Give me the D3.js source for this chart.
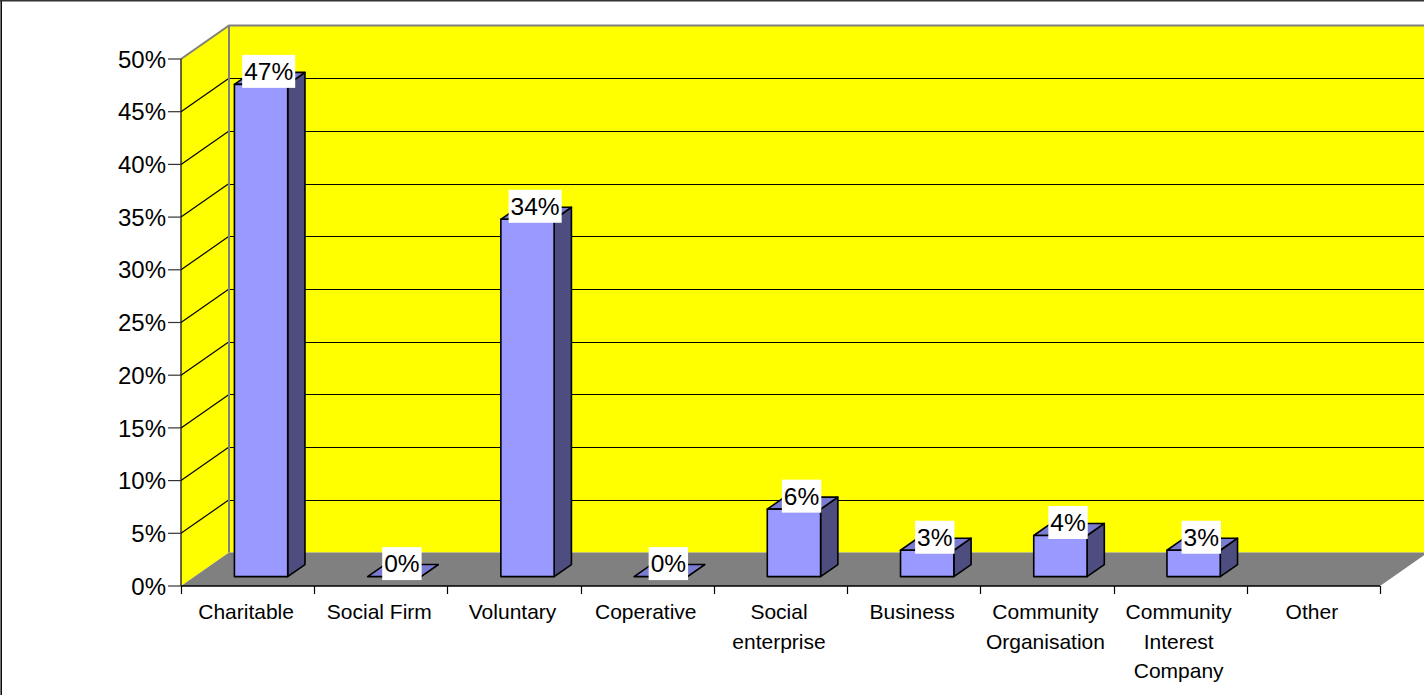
<!DOCTYPE html>
<html>
<head>
<meta charset="utf-8">
<script src="https://cdn.jsdelivr.net/npm/d3@7"></script>
<style>
  body { margin: 0; background: #fff; }
  text { font-family: Arial, "Liberation Sans", sans-serif; fill: #000; }
</style>
</head>
<body>
<svg id="chart"></svg>
<script>
// data (percent)
const categories = ["Charitable", "Social Firm", "Voluntary", "Coperative", "Social enterprise",
    "Business", "Community Organisation", "Community Interest Company", "Other"];
const values = [46.7, 0, 33.9, 0, 6.4, 2.5, 3.9, 2.5, null];
const yTicks = [0, 5, 10, 15, 20, 25, 30, 35, 40, 45, 50];

const width = 1424, height = 695;
const depth = {dx: 48, dy: -33.5};       // wall depth
const barFront = 0.28, barDepth = 0.36;  // fractions of the depth

const svg = d3.select('#chart')
    .attr('width', width)
    .attr('height', height);

const x = d3.scaleBand()
    .domain(categories)
    .range([181, 1380])
    .paddingInner(0.6)
    .paddingOuter(0.3);

const y = d3.scaleLinear()
    .domain([0, 50])
    .range([586, 59]);

const step = x.step();
const x0 = x.range()[0], x1 = x.range()[1];
const pts = a => a.map(p => p.join(',')).join(' ');

// back wall
svg.append('rect')
    .attr('x', x0 + depth.dx).attr('y', y(50) + depth.dy)
    .attr('width', width).attr('height', y(0) - y(50))
    .attr('fill', '#ffff00');

// left wall
svg.append('polygon')
    .attr('points', pts([[x0, y(50)], [x0 + depth.dx, y(50) + depth.dy],
        [x0 + depth.dx, y(0) + depth.dy], [x0, y(0)]]))
    .attr('fill', '#ffff00');

// floor
svg.append('polygon')
    .attr('points', pts([[x0, y(0)], [x1, y(0)], [x1 + depth.dx, y(0) + depth.dy],
        [x0 + depth.dx, y(0) + depth.dy]]))
    .attr('fill', '#808080');

// gridlines
const grid = svg.append('g').attr('stroke', '#000').attr('stroke-width', 1.2);
yTicks.filter(t => t > 0 && t < 50).forEach(t => {
    const yy = Math.round(y(t) + depth.dy) + 0.5;
    grid.append('line')
        .attr('x1', x0 + depth.dx).attr('x2', width)
        .attr('y1', yy).attr('y2', yy);
    grid.append('line')
        .attr('x1', x0).attr('y1', y(t))
        .attr('x2', x0 + depth.dx).attr('y2', y(t) + depth.dy);
});

// wall outlines
svg.append('path')
    .attr('d', `M${x0},${y(50)} L${x0 + depth.dx},${y(50) + depth.dy} L${width},${y(50) + depth.dy}
        M${x0 + depth.dx},${y(50) + depth.dy} L${x0 + depth.dx},${y(0) + depth.dy}`)
    .attr('fill', 'none')
    .attr('stroke', '#808080')
    .attr('stroke-width', 2);

// bars
const bars = svg.append('g')
    .attr('stroke', '#000')
    .attr('stroke-width', 1.6)
    .attr('stroke-linejoin', 'round');

const labelPos = [];
categories.forEach((c, i) => {
    const v = values[i];
    if (v === null) return;
    const ox = depth.dx * barFront, oy = depth.dy * barFront;
    const bx = depth.dx * barDepth, by = depth.dy * barDepth;
    const l = x(c) + ox, r = l + x.bandwidth();
    const yb = y(0) + oy, yt = y(v) + oy;

    bars.append('polygon')
        .attr('points', pts([[r, yt], [r + bx, yt + by], [r + bx, yb + by], [r, yb]]))
        .attr('fill', '#4d4d80');
    bars.append('polygon')
        .attr('points', pts([[l, yt], [r, yt], [r + bx, yt + by], [l + bx, yt + by]]))
        .attr('fill', '#7b7bd0');
    if (v > 0) {
        bars.append('rect')
            .attr('x', l).attr('y', yt)
            .attr('width', r - l).attr('height', yb - yt)
            .attr('fill', '#9999ff');
    }
    labelPos.push({v: v, cx: (l + r) / 2 + bx / 2 - 1, cy: yt + by / 2 - 7});
});

// data labels
const labels = svg.append('g');
labelPos.forEach(d => {
    const g = labels.append('g');
    const t = g.append('text')
        .attr('x', d.cx)
        .attr('y', d.cy + 8.5)
        .attr('text-anchor', 'middle')
        .attr('font-size', 24.5)
        .text(Math.round(d.v) + '%');
    const w = t.node().getComputedTextLength() + 4;
    g.insert('rect', 'text')
        .attr('x', d.cx - w / 2).attr('y', d.cy - 16.5)
        .attr('width', w).attr('height', 33)
        .attr('fill', '#fff');
});

// y axis
const yAxis = svg.append('g');
yAxis.append('line')
    .attr('x1', x0).attr('x2', x0)
    .attr('y1', y(50)).attr('y2', y(0))
    .attr('stroke', '#000').attr('stroke-width', 1.2);
yTicks.forEach(t => {
    yAxis.append('line')
        .attr('x1', x0 - 13).attr('x2', x0)
        .attr('y1', y(t)).attr('y2', y(t))
        .attr('stroke', '#333').attr('stroke-width', 1.2);
    yAxis.append('text')
        .attr('x', 166).attr('y', y(t))
        .attr('dy', '0.36em')
        .attr('text-anchor', 'end')
        .attr('font-size', 24)
        .text(t + '%');
});

// x axis
const xAxis = svg.append('g');
xAxis.append('line')
    .attr('x1', x0).attr('x2', x1)
    .attr('y1', y(0)).attr('y2', y(0))
    .attr('stroke', '#000').attr('stroke-width', 1.5);
d3.range(categories.length + 1).forEach(i => {
    const xx = Math.round(x0 + i * step) + 0.5;
    xAxis.append('line')
        .attr('x1', xx).attr('x2', xx)
        .attr('y1', y(0)).attr('y2', y(0) + 8)
        .attr('stroke', '#000').attr('stroke-width', 1.2);
});

function wrapWords(str, maxW, size) {
    const tmp = svg.append('text').attr('font-size', size);
    const words = str.split(' ');
    const lines = [];
    let line = words[0];
    for (let k = 1; k < words.length; k++) {
        const trial = line + ' ' + words[k];
        tmp.text(trial);
        if (tmp.node().getComputedTextLength() > maxW) {
            lines.push(line);
            line = words[k];
        } else {
            line = trial;
        }
    }
    lines.push(line);
    tmp.remove();
    return lines;
}

categories.forEach(c => {
    const cx = x(c) + x.bandwidth() / 2 - 1.5;
    const lines = wrapWords(c, 126, 21);
    const t = xAxis.append('text')
        .attr('text-anchor', 'middle')
        .attr('font-size', 21);
    lines.forEach((ln, k) => {
        t.append('tspan')
            .attr('x', cx)
            .attr('y', 619 + k * 29.5)
            .text(ln);
    });
});

// frame edges
svg.append('line')
    .attr('x1', 1.2).attr('x2', 1.2).attr('y1', 0).attr('y2', height)
    .attr('stroke', '#000').attr('stroke-width', 1.5);
svg.append('line')
    .attr('x1', 0).attr('x2', width).attr('y1', 0.8).attr('y2', 0.8)
    .attr('stroke', '#333').attr('stroke-width', 1.5);
</script>
</body>
</html>
